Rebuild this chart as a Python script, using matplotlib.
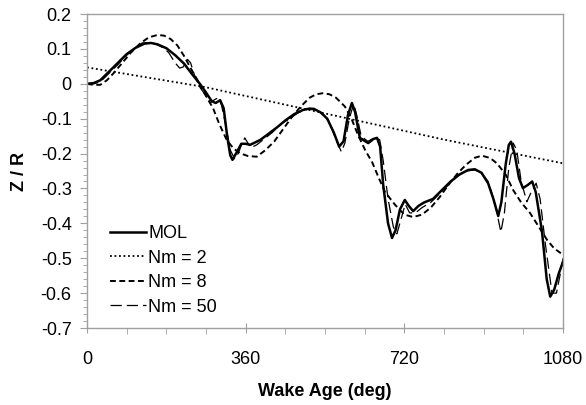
import matplotlib
matplotlib.use("Agg")
import matplotlib.pyplot as plt
from matplotlib.ticker import MultipleLocator, FuncFormatter

plt.rcParams['font.family'] = ['Liberation Sans', 'DejaVu Sans']

# MOL (solid)
mol_x = [0, 15, 30, 50, 70, 90, 110, 130, 145, 160, 180, 200, 220, 240, 256, 270, 283, 292, 302,
         310, 318, 325, 330, 338, 350, 360, 370, 393, 410, 430, 450, 470, 490, 505, 515, 530, 545,
         560, 572, 582, 592, 601, 608, 619, 638, 650, 658, 665, 672, 683, 692, 700, 710, 721, 730,
         740, 752, 765, 785, 805, 825, 845, 865, 880, 895, 910, 922, 933, 940, 950, 957, 962, 970,
         980, 989, 1000, 1010, 1018, 1032, 1043, 1051, 1060, 1070, 1080]
mol_y = [0.0, 0.002, 0.01, 0.035, 0.06, 0.085, 0.103, 0.115, 0.117, 0.113, 0.102, 0.082, 0.058, 0.025,
         0.0, -0.025, -0.05, -0.055, -0.047, -0.07, -0.15, -0.205, -0.218, -0.2, -0.172, -0.172, -0.175,
         -0.161, -0.145, -0.126, -0.105, -0.087, -0.075, -0.071, -0.072, -0.082, -0.1, -0.14, -0.18, -0.165,
         -0.09, -0.055, -0.08, -0.155, -0.17, -0.158, -0.155, -0.18, -0.29, -0.4, -0.442, -0.42, -0.36,
         -0.333, -0.35, -0.365, -0.35, -0.34, -0.33, -0.305, -0.28, -0.26, -0.247, -0.245, -0.255,
         -0.285, -0.33, -0.379, -0.34, -0.23, -0.175, -0.166, -0.2, -0.27, -0.299, -0.29, -0.28, -0.31,
         -0.42, -0.56, -0.61, -0.59, -0.545, -0.51]

# Nm = 2 (dotted)
nm2_x = [0, 270, 540, 810, 1080]
nm2_y = [0.047, -0.01, -0.085, -0.16, -0.228]

# Nm = 8 (short dash)
nm8_x = [0, 15, 30, 45, 60, 80, 100, 120, 140, 160, 175, 190, 205, 220, 235, 250, 256, 270, 286, 300,
         317, 332, 347, 365, 385, 405, 425, 445, 465, 485, 505, 520, 535, 550, 565, 585, 600, 615, 631,
         647, 662, 676, 699, 720, 740, 760, 780, 800, 820, 840, 860, 880, 896, 915, 930, 950, 967, 985,
         1005, 1025, 1044, 1060, 1080]
nm8_y = [0.0, -0.003, -0.003, 0.01, 0.03, 0.06, 0.09, 0.115, 0.133, 0.14, 0.138, 0.128, 0.11, 0.08,
         0.045, 0.012, -0.005, -0.035, -0.07, -0.115, -0.161, -0.185, -0.199, -0.207, -0.209, -0.19,
         -0.165, -0.13, -0.095, -0.065, -0.04, -0.03, -0.027, -0.03, -0.04, -0.065, -0.1, -0.147, -0.19,
         -0.225, -0.27, -0.31, -0.347, -0.375, -0.382, -0.375, -0.355, -0.325, -0.29, -0.258, -0.232,
         -0.212, -0.206, -0.213, -0.228, -0.26, -0.305, -0.34, -0.37, -0.41, -0.448, -0.472, -0.49]

# Nm = 50 (long dash)
nm50_x = [0, 15, 30, 50, 70, 90, 110, 125, 140, 155, 170, 185, 200, 210, 218, 228, 235, 245, 256, 272,
          279, 290, 298, 305, 315, 325, 335, 343, 352, 358, 364, 372, 385, 400, 420, 440, 460, 480, 500,
          520, 535, 550, 565, 577, 585, 595, 605, 612, 622, 637, 652, 664, 672, 683, 695, 703, 712, 722,
          732, 745, 760, 780, 800, 820, 840, 860, 880, 895, 910, 925, 939, 947, 957, 967, 975, 985, 998,
          1008, 1019, 1028, 1040, 1055, 1065, 1073, 1080]
nm50_y = [0.0, 0.0, 0.005, 0.03, 0.055, 0.082, 0.105, 0.117, 0.118, 0.115, 0.105, 0.09, 0.06, 0.045,
          0.048, 0.07, 0.06, 0.02, -0.01, -0.038, -0.055, -0.045, -0.04, -0.06, -0.12, -0.19, -0.215,
          -0.2, -0.17, -0.155, -0.168, -0.183, -0.175, -0.16, -0.14, -0.115, -0.1, -0.082, -0.073, -0.075,
          -0.085, -0.11, -0.16, -0.195, -0.17, -0.1, -0.058, -0.09, -0.15, -0.165, -0.155, -0.16, -0.22,
          -0.33, -0.41, -0.43, -0.39, -0.345, -0.37, -0.37, -0.355, -0.34, -0.315, -0.29, -0.265, -0.25,
          -0.247, -0.255, -0.28, -0.34, -0.425, -0.37, -0.24, -0.17, -0.19, -0.28, -0.338, -0.31,
          -0.285, -0.33, -0.46, -0.6, -0.6, -0.55, -0.5]

x_ticks = [0, 360, 720, 1080]
y_min, y_max = -0.7, 0.2

fig = plt.figure(figsize=(5.86, 4.05), dpi=100)
ax = fig.add_axes([0.1485, 0.1901, 0.8123, 0.7753])

ax.plot(mol_x, mol_y, color='black', lw=1.8, ls='-', label='MOL')
ax.plot(nm2_x, nm2_y, color='black', lw=1.3, ls=(0, (1, 1.5)), label='Nm = 2')
ax.plot(nm8_x, nm8_y, color='black', lw=1.4, ls=(0, (3, 1.8)), label='Nm = 8')
ax.plot(nm50_x, nm50_y, color='black', lw=0.9, ls=(0, (9, 4)), label='Nm = 50')

ax.set_xlim(0, 1080)
ax.set_ylim(y_min, y_max)
ax.set_xticks(x_ticks)
ax.xaxis.set_minor_locator(MultipleLocator(90))
ax.yaxis.set_major_locator(MultipleLocator(0.1))
ax.yaxis.set_minor_locator(MultipleLocator(0.02))

def yfmt(v, pos):
    v = round(v, 2)
    if abs(v) < 1e-9:
        return '0'
    return ('%.1f' % v)
ax.yaxis.set_major_formatter(FuncFormatter(yfmt))

gray = '#a0a0a0'
for s in ax.spines.values():
    s.set_color(gray)
    s.set_linewidth(1.0)

ax.tick_params(axis='x', which='major', direction='inout', length=7, color=gray, labelsize=13, pad=13)
ax.tick_params(axis='x', which='minor', direction='out', length=4, color=gray)
ax.tick_params(axis='y', which='major', direction='out', length=5, color=gray, labelsize=13, pad=6)
ax.tick_params(axis='y', which='minor', direction='out', length=3, color=gray)

ax.set_xlabel('Wake Age (deg)', fontsize=13, fontweight='bold', labelpad=11)
ax.set_ylabel('Z / R', fontsize=13, fontweight='bold', labelpad=9)

leg = ax.legend(loc='lower left', bbox_to_anchor=(0.034, 0.016), frameon=False, fontsize=13,
                handlelength=1.95, handletextpad=0.15, labelspacing=0.42, borderaxespad=0.0)

fig.savefig('out.png', dpi=100, facecolor='white')
